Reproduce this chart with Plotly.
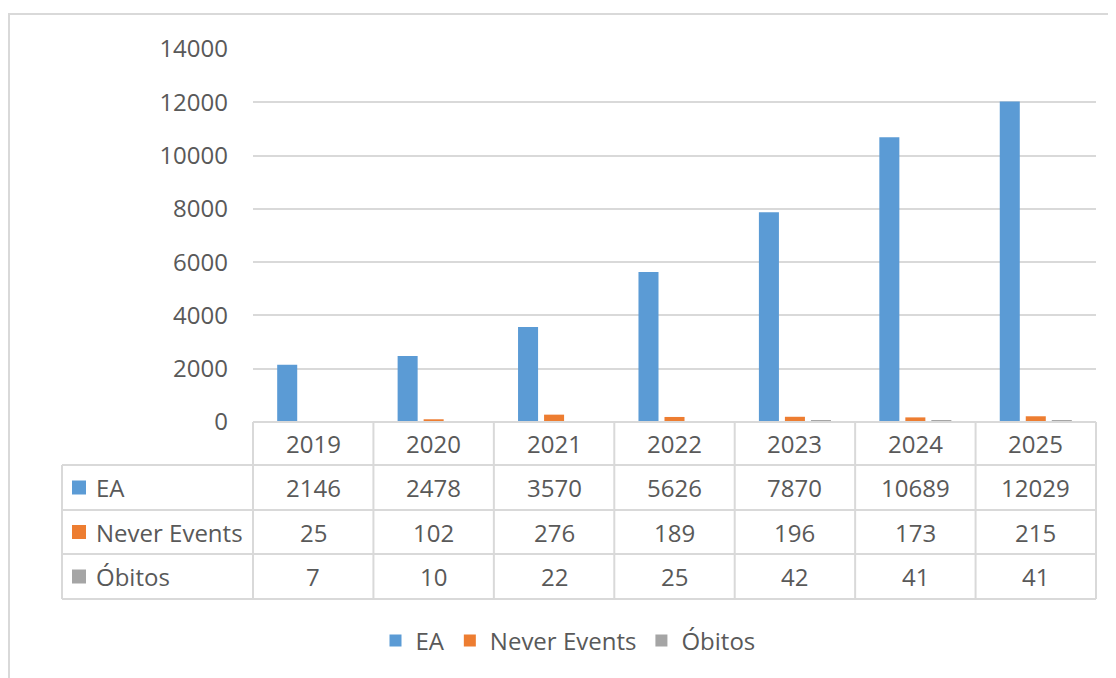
import plotly.graph_objects as go

# ---- data ----
years = ["2019", "2020", "2021", "2022", "2023", "2024", "2025"]
ea = [2146, 2478, 3570, 5626, 7870, 10689, 12029]
never_events = [25, 102, 276, 189, 196, 173, 215]
obitos = [7, 10, 22, 25, 42, 41, 41]
series_names = ["EA", "Never Events", "Óbitos"]
y_ticks = [0, 2000, 4000, 6000, 8000, 10000, 12000, 14000]

# ---- style ----
colors = ["#5B9BD5", "#ED7D31", "#A5A5A5"]
text_color = "#595959"
line_color = "#D9D9D9"
FONT = "Open Sans"
FS = 24

W, H = 1116, 678
OFF = 8                      # page body margin of the rendered html
X0, X1 = 253, 1096           # plot / table columns horizontal extent (target px)
YTOP, YBOT = 49, 422         # plot vertical extent (target px)
TABLE_LEFT = 62
ROW_LINES = [422, 465, 510, 554, 599]


def px(x):
    return (x - OFF) / W


def py(y):
    return 1 - (y - OFF) / H


series = [ea, never_events, obitos]
ncol = len(years)

fig = go.Figure()
for name, vals, c in zip(series_names, series, colors):
    fig.add_bar(x=years, y=vals, name=name, marker_color=c, marker_line_width=0)

shapes = []
# outer chart border
shapes.append(dict(type="rect", xref="paper", yref="paper",
                   x0=px(9), x1=px(1160), y0=py(720), y1=py(14),
                   line=dict(color=line_color, width=2), layer="below"))

colw = (X1 - X0) / ncol
# horizontal table lines
for i, yl in enumerate(ROW_LINES):
    xs = X0 if i == 0 else TABLE_LEFT
    shapes.append(dict(type="line", xref="paper", yref="paper",
                       x0=px(xs), x1=px(X1), y0=py(yl), y1=py(yl),
                       line=dict(color=line_color, width=2)))
# vertical table lines
shapes.append(dict(type="line", xref="paper", yref="paper",
                   x0=px(TABLE_LEFT), x1=px(TABLE_LEFT), y0=py(ROW_LINES[1]), y1=py(ROW_LINES[-1]),
                   line=dict(color=line_color, width=2)))
for i in range(ncol + 1):
    xv = X0 + i * colw
    shapes.append(dict(type="line", xref="paper", yref="paper",
                       x0=px(xv), x1=px(xv), y0=py(ROW_LINES[0]), y1=py(ROW_LINES[-1]),
                       line=dict(color=line_color, width=2)))

annotations = []
tfont = dict(family=FONT, size=FS, color=text_color)
# header (years)
hy = (ROW_LINES[0] + ROW_LINES[1]) / 2
for i, yr in enumerate(years):
    annotations.append(dict(x=i, xref="x", y=py(hy), yref="paper", text=yr,
                            showarrow=False, font=tfont, xanchor="center", yanchor="middle"))
# rows
for r, (name, vals, c) in enumerate(zip(series_names, series, colors)):
    cy = (ROW_LINES[r + 1] + ROW_LINES[r + 2]) / 2
    shapes.append(dict(type="rect", xref="paper", yref="paper",
                       x0=px(72), x1=px(86), y0=py(cy + 7), y1=py(cy - 7),
                       fillcolor=c, line=dict(width=0)))
    annotations.append(dict(x=px(94), xref="paper", y=py(cy), yref="paper", text=name,
                            showarrow=False, font=tfont, xanchor="left", yanchor="middle"))
    for i, v in enumerate(vals):
        annotations.append(dict(x=i, xref="x", y=py(cy), yref="paper", text=str(v),
                                showarrow=False, font=tfont, xanchor="center", yanchor="middle"))

fig.update_layout(
    width=W, height=H, autosize=False,
    margin=dict(l=0, r=0, t=0, b=0, pad=0, autoexpand=False),
    paper_bgcolor="white", plot_bgcolor="white",
    font=tfont,
    barmode="group", bargap=0.352, bargroupgap=0.23,
    shapes=shapes, annotations=annotations,
    showlegend=True,
    legend=dict(orientation="h", x=px(568), xanchor="center", y=py(641), yanchor="middle",
                font=tfont, itemwidth=30, bgcolor="rgba(0,0,0,0)"),
    xaxis=dict(type="category", domain=[px(X0), px(X1)], range=[-0.5, ncol - 0.5],
               showticklabels=False, showgrid=False, zeroline=False, showline=False,
               fixedrange=True, automargin=False),
    yaxis=dict(domain=[py(YBOT), py(YTOP)], range=[0, 14000], tickvals=y_ticks, tickformat="d",
               showgrid=True, gridcolor=line_color, gridwidth=2, zeroline=False, showline=False,
               ticks="", ticklabelstandoff=24, automargin=False,
               tickfont=tfont, fixedrange=True),
)

fig.write_html("out.html")
